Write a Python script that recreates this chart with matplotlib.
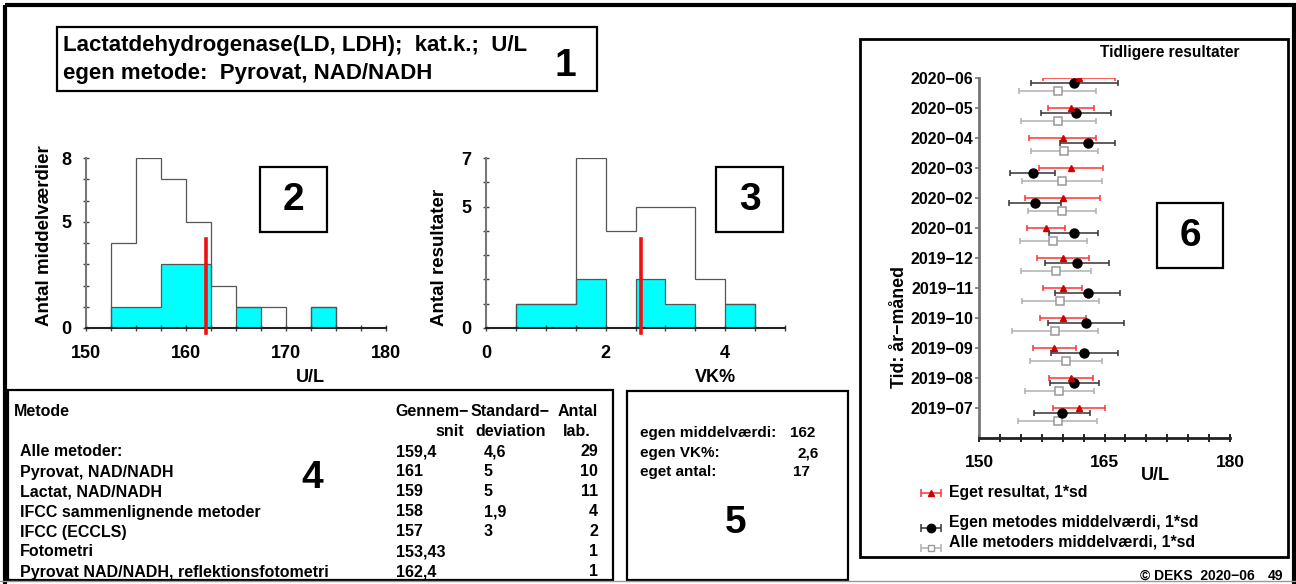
import matplotlib
matplotlib.use('Agg')
import matplotlib.pyplot as plt
from matplotlib.patches import Rectangle
from matplotlib.ticker import MultipleLocator

plt.rcParams['font.family'] = ['Liberation Sans', 'DejaVu Sans']
plt.rcParams['font.weight'] = 'bold'
plt.rcParams['axes.labelweight'] = 'bold'

W, H = 1296, 584

# histogram 2: U/L
ul_edges = [152.5, 155, 157.5, 160, 162.5, 165, 167.5, 170, 172.5, 175]
ul_all = [4, 8, 7, 5, 2, 1, 1, 0, 1]
ul_own = [1, 1, 3, 3, 0, 1, 0, 0, 1]
own_mean = 162

# histogram 3: VK%
vk_edges = [0.5, 1, 1.5, 2, 2.5, 3, 3.5, 4, 4.5]
vk_all = [1, 1, 7, 4, 5, 5, 2, 1]
vk_own = [1, 1, 2, 0, 2, 1, 0, 1]
own_vk = 2.6

# panel 6: earlier results, oldest first
months = ['2019−07', '2019−08', '2019−09', '2019−10', '2019−11', '2019−12',
          '2020−01', '2020−02', '2020−03', '2020−04', '2020−05', '2020−06']
own_res = [162.0, 161.0, 159.0, 160.0, 160.0, 160.0, 158.0, 160.0, 161.0, 160.0, 161.0, 162.0]
own_sd = [3.1, 2.6, 2.55, 2.75, 2.3, 3.1, 2.3, 4.5, 3.8, 4.0, 2.8, 4.3]
meth_mean = [159.9, 161.4, 162.6, 162.8, 163.0, 161.7, 161.3, 156.7, 156.4, 163.0, 161.6, 161.4]
meth_sd = [3.35, 2.9, 4.05, 4.55, 3.9, 3.8, 2.9, 3.15, 2.7, 3.3, 4.2, 5.2]
all_mean = [159.4, 159.6, 160.4, 159.1, 159.7, 159.2, 158.9, 159.9, 159.9, 160.2, 159.5, 159.4]
all_sd = [4.7, 4.15, 4.25, 5.1, 4.6, 4.2, 4.0, 4.05, 4.8, 4.0, 4.5, 4.6]

# table 4
methods = ['Alle metoder:', 'Pyrovat, NAD/NADH', 'Lactat, NAD/NADH',
           'IFCC sammenlignende metoder', 'IFCC (ECCLS)', 'Fotometri',
           'Pyrovat NAD/NADH, reflektionsfotometri']
means = ['159,4', '161', '159', '158', '157', '153,43', '162,4']
sds = ['4,6', '5', '5', '1,9', '3', '', '']
labs = ['29', '10', '11', '4', '2', '1', '1']


def fx(x):
    return x / W


def fy(y):
    return 1 - y / H


fig = plt.figure(figsize=(W / 100, H / 100), dpi=100)


def style_hist(ax, xlim, ylim, xmaj, xminor, ymaj):
    ax.set_facecolor('none')
    ax.set_xlim(xlim)
    ax.set_ylim(ylim)
    for s in ['top', 'right']:
        ax.spines[s].set_visible(False)
    ax.spines['left'].set_color('#777777')
    ax.spines['left'].set_linewidth(1.5)
    ax.spines['bottom'].set_color('#222222')
    ax.spines['bottom'].set_linewidth(1.5)
    ax.set_xticks(xmaj)
    ax.xaxis.set_minor_locator(MultipleLocator(xminor))
    ax.set_yticks(ymaj)
    ax.yaxis.set_minor_locator(MultipleLocator(1))
    ax.tick_params(which='both', direction='inout', length=5, width=1, color='#444444')
    ax.tick_params(axis='x', labelsize=13, pad=10)
    ax.tick_params(axis='y', labelsize=13, pad=8)


def draw_hist(ax, edges, all_counts, own_counts, own_val):
    ax.stairs(own_counts, edges, fill=True, color='#00FFFF', zorder=1)
    ax.stairs(own_counts, edges, color='#555555', lw=0.9, zorder=2)
    ax.stairs(all_counts, edges, color='#555555', lw=0.9, zorder=2)
    ax.axvline(own_val, ymin=-0.03, ymax=0.525, color='#EE1111', lw=2.6,
               clip_on=False, zorder=3)


ax1 = fig.add_axes([fx(86), fy(328), 300 / W, 170 / H])
draw_hist(ax1, ul_edges, ul_all, ul_own, own_mean)
style_hist(ax1, (150, 180), (0, 8), [150, 160, 170, 180], 2.5, [0, 5, 8])

ax2 = fig.add_axes([fx(486), fy(328), 299 / W, 170 / H])
draw_hist(ax2, vk_edges, vk_all, vk_own, own_vk)
style_hist(ax2, (0, 5), (0, 7), [0, 2, 4], 0.5, [0, 5, 7])

# panel 6
ax3 = fig.add_axes([fx(979), fy(438), 251 / W, 360 / H])
ax3.set_facecolor('none')
ypos = list(range(1, len(months) + 1))
eb = dict(capsize=2.5, elinewidth=1.1, capthick=1.1, ls='none')
ax3.errorbar(all_mean, [y - 0.42 for y in ypos], xerr=all_sd, fmt='s', ms=6,
             mfc='white', mec='#999999', mew=1.1, ecolor='#B0B0B0', **eb)
ax3.errorbar(meth_mean, [y - 0.18 for y in ypos], xerr=meth_sd, fmt='o', ms=6.5,
             color='black', ecolor='#333333', **eb)
ax3.errorbar(own_res, ypos, xerr=own_sd, fmt='^', ms=5, color='#CC0000',
             ecolor='#FF3333', **eb)
ax3.set_xlim(150, 180)
ax3.set_ylim(0, 12)
ax3.set_yticks(ypos)
ax3.set_yticklabels(months)
ax3.set_xticks([150, 165, 180])
ax3.xaxis.set_minor_locator(MultipleLocator(2.5))
for s in ['top', 'right']:
    ax3.spines[s].set_visible(False)
ax3.spines['left'].set_color('#777777')
ax3.spines['left'].set_linewidth(2)
ax3.spines['bottom'].set_color('#222222')
ax3.spines['bottom'].set_linewidth(2)
ax3.tick_params(axis='x', which='both', direction='inout', length=6, width=1.2,
                labelsize=12.5, pad=9)
ax3.tick_params(axis='y', direction='out', length=3, width=1.2, labelsize=11.5,
                pad=1, color='#777777')

# overlay for boxes and texts, in pixel coordinates
lax = fig.add_axes([0, 0, 1, 1], zorder=5)
lax.set_xlim(0, W)
lax.set_ylim(H, 0)
lax.axis('off')


def box(x0, y0, x1, y1, lw=1.6):
    lax.add_patch(Rectangle((x0, y0), x1 - x0, y1 - y0, fill=False,
                            ec='black', lw=lw))


# outer frame and page edge
lax.add_patch(Rectangle((5, 5), 1289, 620, fill=False, ec='black', lw=3, clip_on=False))
lax.plot([0, W], [581, 581], color='#999999', lw=1)

box(57, 27, 597, 91)
lax.text(63, 45, 'Lactatdehydrogenase(LD, LDH);  kat.k.;  U/L', fontsize=16,
         va='center', ha='left')
lax.text(63, 73, 'egen metode:  Pyrovat, NAD/NADH', fontsize=16, va='center', ha='left')
lax.text(565, 66, '1', fontsize=28, ha='center', va='center')

box(260, 167, 327, 232)
lax.text(293.5, 200, '2', fontsize=28, ha='center', va='center')
box(716, 167, 783, 232)
lax.text(749.5, 200, '3', fontsize=28, ha='center', va='center')

lax.text(45, 326, 'Antal middelværdier', fontsize=13.5, rotation=90, ha='center', va='bottom')
lax.text(310, 377, 'U/L', fontsize=13, ha='center', va='center')
lax.text(440, 326, 'Antal resultater', fontsize=13.5, rotation=90, ha='center', va='bottom')
lax.text(715, 377, 'VK%', fontsize=13, ha='center', va='center')

# table 4
box(8, 390, 613, 580)
tfs = 11.5
lax.text(14, 412, 'Metode', fontsize=tfs, va='center')
lax.text(432, 412, 'Gennem−', fontsize=tfs, va='center', ha='center')
lax.text(464, 432, 'snit', fontsize=tfs, va='center', ha='right')
lax.text(510, 412, 'Standard−', fontsize=tfs, va='center', ha='center')
lax.text(511, 432, 'deviation', fontsize=tfs, va='center', ha='center')
lax.text(598, 412, 'Antal', fontsize=tfs, va='center', ha='right')
lax.text(591, 432, 'lab.', fontsize=tfs, va='center', ha='right')
for i, (m, mu, sd, n) in enumerate(zip(methods, means, sds, labs)):
    y = 452 + 20 * i
    lax.text(20, y, m, fontsize=tfs, va='center')
    lax.text(396, y, mu, fontsize=tfs, va='center')
    lax.text(484, y, sd, fontsize=tfs, va='center')
    lax.text(598, y, n, fontsize=tfs, va='center', ha='right')
lax.text(312, 478, '4', fontsize=28, ha='center', va='center')

# box 5
box(627, 391, 848, 580)
bfs = 11
lax.text(640, 433, 'egen middelværdi:', fontsize=bfs, va='center')
lax.text(640, 453, 'egen VK%:', fontsize=bfs, va='center')
lax.text(640, 472, 'eget antal:', fontsize=bfs, va='center')
lax.text(790, 433, '162', fontsize=bfs, va='center')
lax.text(819, 453, '2,6', fontsize=bfs, va='center', ha='right')
lax.text(793, 472, '17', fontsize=bfs, va='center')
lax.text(736, 523, '5', fontsize=28, ha='center', va='center')

# box 6
box(860, 39, 1288, 557, lw=2)
lax.text(1240, 53, 'Tidligere resultater', fontsize=11.2, ha='right', va='center')
box(1157, 203, 1223, 268)
lax.text(1190, 236, '6', fontsize=28, ha='center', va='center')
lax.text(900, 388, 'Tid: år−måned', fontsize=12.8, rotation=90, ha='center', va='bottom')
lax.text(1155, 475, 'U/L', fontsize=13, ha='center', va='center')

# legend of panel 6
leg_eb = dict(capsize=3, elinewidth=1.1, capthick=1.1)
lax.errorbar([931], [493], xerr=[10], fmt='^', ms=5, color='#CC0000', ecolor='#FF3333', **leg_eb)
lax.errorbar([931], [528], xerr=[10], fmt='o', ms=6, color='black', ecolor='#333333', **leg_eb)
lax.errorbar([931], [548], xerr=[10], fmt='s', ms=5, mfc='white', mec='#999999',
             ecolor='#B0B0B0', **leg_eb)
lax.text(949, 493, 'Eget resultat, 1*sd', fontsize=11.4, va='center')
lax.text(949, 522, 'Egen metodes middelværdi, 1*sd', fontsize=11.4, va='center')
lax.text(949, 542, 'Alle metoders middelværdi, 1*sd', fontsize=11.4, va='center')

lax.text(1140, 583, '© DEKS  2020−06', fontsize=10, va='bottom')
lax.text(1283, 583, '49', fontsize=10, va='bottom', ha='right')

fig.savefig('out.png', dpi=100)
